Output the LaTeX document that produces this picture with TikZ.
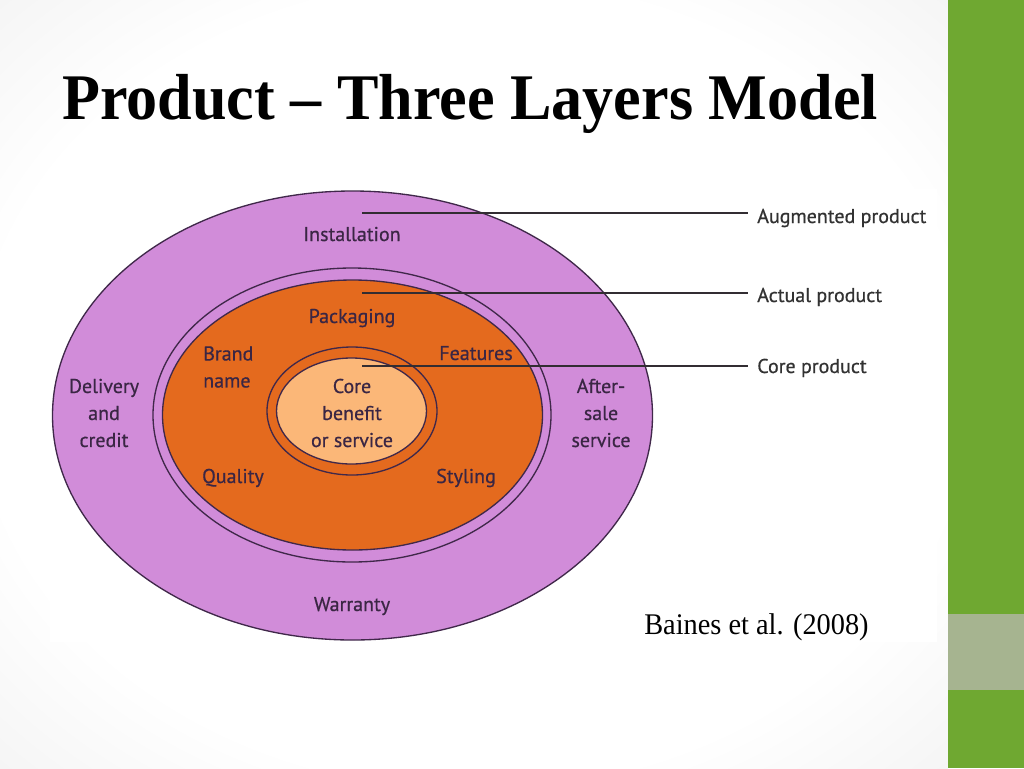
\documentclass[tikz,border=0pt]{standalone}
\usepackage{fontspec}
\setmainfont{Liberation Serif}
\newfontfamily\dinfont[FakeBold=0.6]{PT Sans}
\definecolor{purp}{RGB}{209,140,217}
\definecolor{orng}{RGB}{228,106,30}
\definecolor{peach}{RGB}{251,183,120}
\definecolor{edgec}{RGB}{64,40,74}
\definecolor{labtxt}{RGB}{58,38,68}
\definecolor{rtxt}{RGB}{50,50,50}
\definecolor{leadc}{RGB}{50,45,50}
\definecolor{barg}{RGB}{111,168,49}
\definecolor{barx}{RGB}{166,180,144}
\pgfdeclareradialshading{slidebg}{\pgfpoint{0bp}{0bp}}{color(0bp)=(white); color(26bp)=(white); color(50bp)=(black!10)}
\begin{document}
\begin{tikzpicture}[x=0.75pt,y=-0.75pt,
  lbl/.style={font=\dinfont\fontsize{15}{20.25}\selectfont, text=labtxt, align=center, inner sep=0pt},
  rlbl/.style={font=\dinfont\fontsize{15}{18}\selectfont, text=rtxt, anchor=base west, inner sep=0pt, inner xsep=6.75pt},
  ring/.style={draw=edgec, line width=1pt},
  leader/.style={draw=leadc, line width=1.1pt}]
\useasboundingbox (0,0) rectangle (1024,768);
% slide background
\shade[shading=slidebg] (0,0) rectangle (948,768);
\fill[barg] (948,0) rectangle (1024,768);
\fill[barx] (948,614) rectangle (1024,690);
% white picture area
\fill[white] (50,189) rectangle (937,642);
% title
\node[font=\bfseries\fontsize{48.8}{50}\selectfont, anchor=base west, inner sep=0pt] (title) at (62,119) {\scalebox{0.955}[1]{Product – Three Layers Model}};
% layers
\draw[ring, fill=purp] (352.5,415.5) ellipse [x radius=300, y radius=224.5];
\draw[ring, fill=purp] (352,415) ellipse [x radius=199, y radius=147];
\draw[ring, fill=orng] (352.5,415) ellipse [x radius=190, y radius=135];
\draw[ring, fill=orng] (352,411) ellipse [x radius=85, y radius=64];
\draw[ring, fill=peach] (351.5,411) ellipse [x radius=75, y radius=53];
% labels
\node[lbl, anchor=base] (inst) at (352,241) {Installation};
\node[lbl, anchor=base] (pack) at (352,323) {Packaging};
\node[lbl, align=left, anchor=west] (brand) at (203,367) {Brand\\name};
\node[lbl, anchor=base] (feat) at (476,360) {Features};
\node[lbl] (core) at (352,413) {Core\\benefit\\or service};
\node[lbl] (deliv) at (104,413) {Delivery\\and\\credit};
\node[lbl] (after) at (601,413) {After-\\sale\\service};
\node[lbl, anchor=base] (qual) at (233,483) {Quality};
\node[lbl, anchor=base] (styl) at (466,483) {Styling};
\node[lbl, anchor=base] (warr) at (352,611) {Warranty};
% right-hand labels and leaders
\node[rlbl] (aug) at (748,223) {Augmented product};
\node[rlbl] (act) at (748,302) {Actual product};
\node[rlbl] (corep) at (748,373) {Core product};
\coordinate (c1) at (362,213);
\coordinate (c2) at (362,293);
\coordinate (c3) at (362,366);
\draw[leader] (c1) -- (c1 -| aug.west);
\draw[leader] (c2) -- (c2 -| act.west);
\draw[leader] (c3) -- (c3 -| corep.west);
% source
\node[font=\fontsize{22.5}{25}\selectfont, anchor=base west, inner sep=0pt] (src) at (644,634) {\scalebox{0.945}[1]{Baines et al. (2008)}};
\end{tikzpicture}
\end{document}
